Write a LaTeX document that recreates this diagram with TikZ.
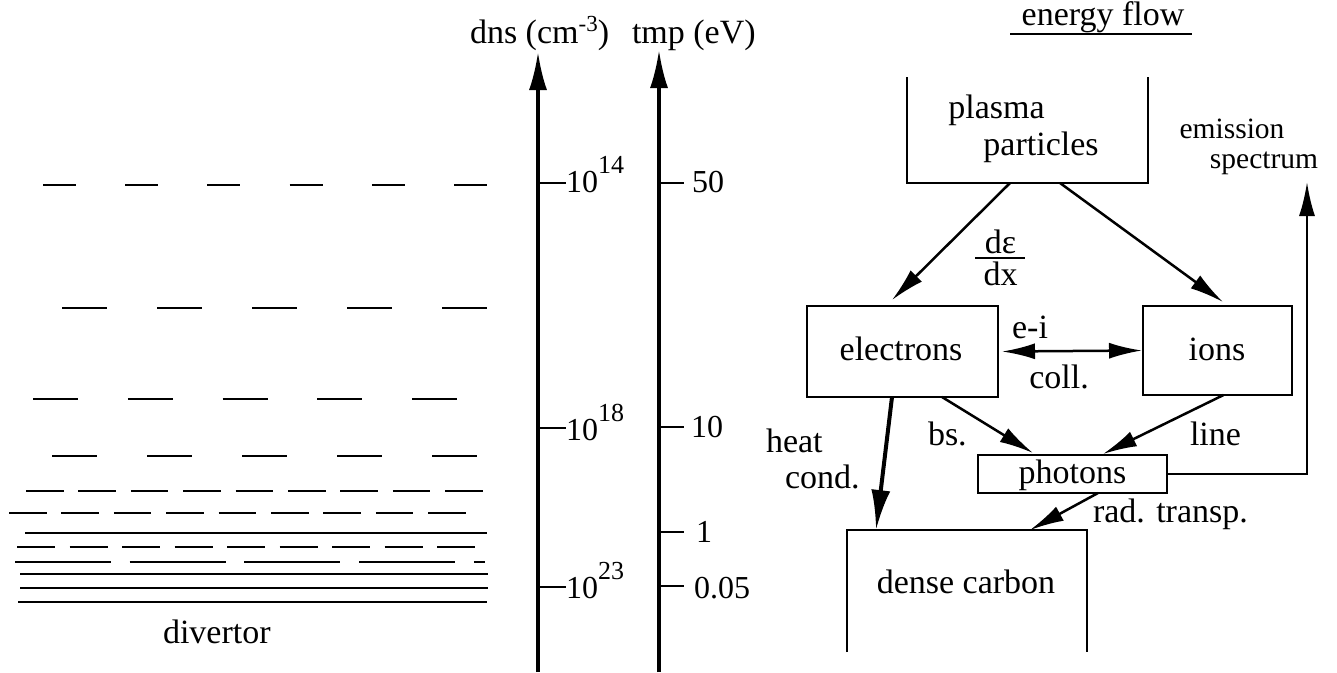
\documentclass[tikz,border=0pt]{standalone}
\usepackage{fontspec}
\setmainfont{Liberation Serif}
\usetikzlibrary{arrows.meta,calc}
\newcommand{\myexp}[1]{\raisebox{19pt}{\fontsize{26}{26}\selectfont #1}}
\newcommand{\myunitexp}[1]{\raisebox{12pt}{\fontsize{23}{23}\selectfont #1}}
\begin{document}
\begin{tikzpicture}[x=1pt,y=-1pt,
  txt/.style={inner sep=0pt, outer sep=0pt, font=\fontsize{34}{40}\selectfont},
  stxt/.style={inner sep=0pt, outer sep=0pt, font=\fontsize{29.5}{34}\selectfont},
  ttxt/.style={inner sep=0pt, outer sep=0pt, font=\fontsize{32}{38}\selectfont},
  frame/.style={draw, line width=2pt, inner sep=0pt, outer sep=0pt},
  openbox/.style={inner sep=0pt, outer sep=0pt},
  boxline/.style={line width=2pt},
  flow/.style={line width=2.5pt, -{Latex[length=34pt,width=16pt]}},
  twoflow/.style={line width=2.5pt, {Latex[length=33pt,width=16pt]}-{Latex[length=33pt,width=16pt]}},
  heatflow/.style={line width=4pt, -{Latex[length=40pt,width=19pt]}},
  axis/.style={line width=3.5pt, -{Latex[length=38pt,width=18pt]}},
  tickline/.style={line width=2.2pt},
  dl/.style={line width=2.5pt}
]
\path[use as bounding box, fill=white] (0,0) rectangle (1337,672);

% ---------------- divertor layers ----------------
\draw[dl, dash pattern=on 33pt off 49.2pt] (43,185) -- (487,185);
\draw[dl, dash pattern=on 45pt off 50pt] (62,308) -- (487,308);
\draw[dl, dash pattern=on 45pt off 49.75pt] (33,399) -- (457,399);
\draw[dl, dash pattern=on 45pt off 50pt] (52,456) -- (477,456);
\draw[dl, dash pattern=on 37.5pt off 14.9pt] (26,491) -- (483,491);
\draw[dl, dash pattern=on 37.5pt off 14.9pt] (9,513) -- (466,513);
\draw[dl] (25,533) -- (487,533);
\draw[dl, dash pattern=on 38pt off 14.5pt] (17,547) -- (475,547);
\draw[dl, dash pattern=on 96pt off 18.7pt] (15,562) -- (485,562);
\draw[dl] (20,574) -- (488,574);
\draw[dl] (20,588) -- (488,588);
\draw[dl] (18,602) -- (487,602);
\node[txt, anchor=base west] (divertor) at (163,643) {divertor};

% ---------------- axes ----------------
\node[txt, anchor=base west] (dnslab) at (470,43) {dns (cm\myunitexp{-3})};
\node[txt, anchor=base west] (tmplab) at (632,43) {tmp (eV)};
\coordinate (dnsbot) at (538,672);
\coordinate (dnstop) at (538,52);
\coordinate (tmpbot) at (659,672);
\coordinate (tmptop) at (659,50);
\draw[axis] (dnsbot) -- (dnstop);
\draw[axis] (tmpbot) -- (tmptop);

\draw[tickline] (538,183) -- (566,183);
\draw[tickline] (538,428) -- (566,428);
\draw[tickline] (538,587) -- (566,587);
\node[ttxt, anchor=base west] (d14) at (566,192) {10\myexp{14}};
\node[ttxt, anchor=base west] (d18) at (566,440) {10\myexp{18}};
\node[ttxt, anchor=base west] (d23) at (566,598) {10\myexp{23}};

\draw[tickline] (659,183) -- (684,183);
\draw[tickline] (659,427) -- (684,427);
\draw[tickline] (659,532) -- (684,532);
\draw[tickline] (659,586) -- (684,586);
\node[ttxt, anchor=base west] (t50) at (692,192) {50};
\node[ttxt, anchor=base west] (t10) at (691,437) {10};
\node[ttxt, anchor=base west] (t1) at (696,542) {1};
\node[ttxt, anchor=base west] (t005) at (694,598) {0.05};

% ---------------- energy flow ----------------
\node[txt, anchor=base] (energy) at (1103,25) {energy flow};
\draw[line width=2pt] (1010,34) -- (1192,34);

\node[openbox, minimum width=241pt, minimum height=106pt] (plasma) at (1027.5,130) {};
\draw[boxline] (plasma.north west) -- (plasma.south west) -- (plasma.south east) -- (plasma.north east);
\node[txt, anchor=base] (plasmaA) at (996.5,118) {plasma};
\node[txt, anchor=base] (plasmaB) at (1041,155) {particles};

\node[stxt, anchor=base] (emisA) at (1232,138) {emission};
\node[stxt, anchor=base] (emisB) at (1264,168) {spectrum};

\node[frame, minimum width=191pt, minimum height=91pt] (elec) at (902.5,351.5) {};
\node[txt, anchor=base] (elecT) at (901,360) {electrons};
\node[frame, minimum width=149pt, minimum height=89pt] (ions) at (1217.5,350.5) {};
\node[txt, anchor=base] (ionsT) at (1217,360) {ions};
\node[frame, minimum width=189pt, minimum height=38pt] (phot) at (1072.5,474) {};
\node[txt, anchor=base] (photT) at (1072.5,483) {photons};
\node[openbox, minimum width=240pt, minimum height=122pt] (carbon) at (967,591) {};
\draw[boxline] (carbon.south west) -- (carbon.north west) -- (carbon.north east) -- (carbon.south east);
\node[txt, anchor=base] (carbonT) at (966,593) {dense carbon};

% d eps / dx
\node[txt, anchor=base] (deps) at (1000.5,253) {dε};
\node[txt, anchor=base] (dx) at (1000.5,285) {dx};
\draw[line width=2pt] (975,257.5) -- (1025,257.5);

% labels
\node[txt, anchor=base] (ei) at (1030,338) {e-i};
\node[txt, anchor=base] (coll) at (1059,388) {coll.};
\node[txt, anchor=base west] (heatA) at (766,452) {heat};
\node[txt, anchor=base west] (heatB) at (785,488) {cond.};
\node[txt, anchor=base west] (bs) at (928,445) {bs.};
\node[txt, anchor=base west] (line) at (1190,445) {line};
\node[txt, anchor=base west] (rad) at (1093,522) {rad. transp.};

% connectors
\draw[flow] ($(plasma.south)+(-17.5,0)$) -- ($(elec.north)+(-10.5,-6)$);
\draw[flow] ($(plasma.south)+(32.5,0)$) -- ($(ions.north)+(5.5,-4)$);
\draw[twoflow] ($(elec.east)+(4,0)$) -- ($(ions.west)+(-1,0)$);
\draw[heatflow] ($(elec.south)+(-10.5,0)$) -- ($(carbon.north)+(-91,0)$);
\draw[flow] ($(elec.south)+(39.5,0)$) -- ($(phot.north)+(-39.5,-2)$);
\draw[flow] ($(ions.south)+(6,0)$) -- ($(phot.north)+(30.5,-1)$);
\draw[flow] ($(phot.south)+(25.5,0)$) -- ($(carbon.north)+(63,0)$);
\coordinate (emtop) at (1307,182);
\draw[flow] (phot.east) -| (emtop);
\end{tikzpicture}
\end{document}
